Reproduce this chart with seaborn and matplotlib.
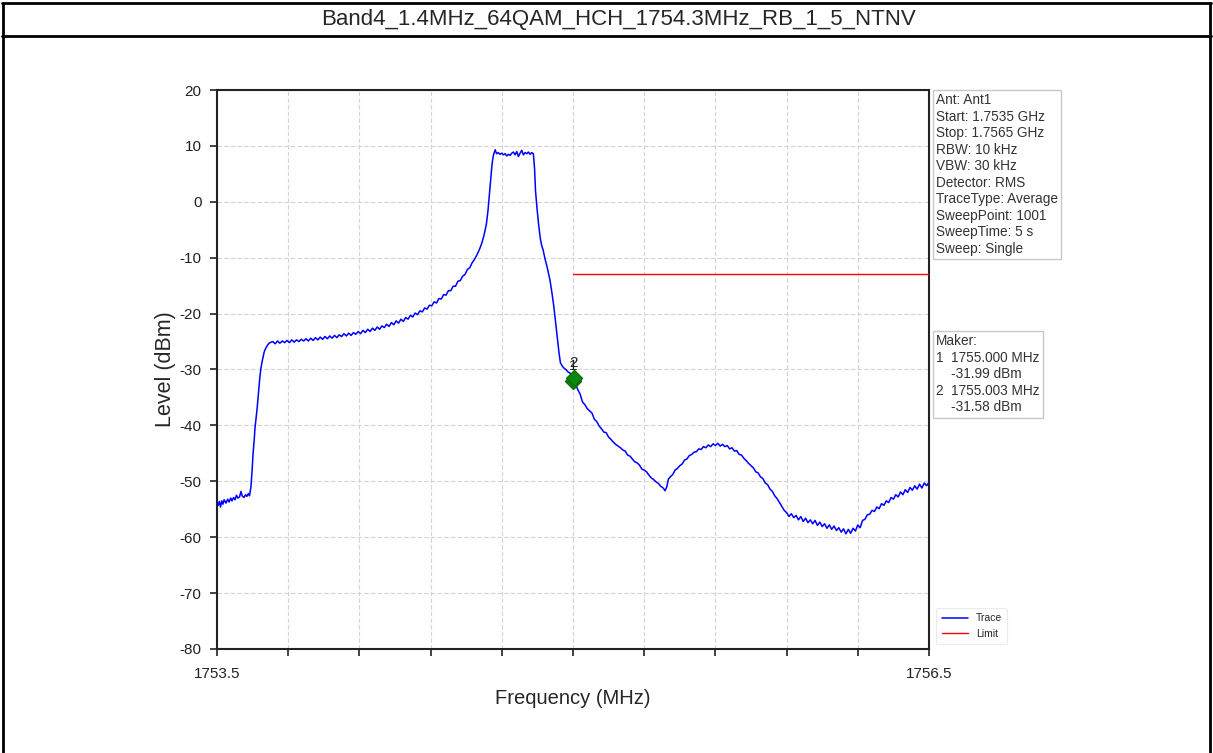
import matplotlib
matplotlib.use("Agg")
from matplotlib import pyplot as plt
from matplotlib.lines import Line2D
import seaborn as sns
import pandas as pd

title = "Band4_1.4MHz_64QAM_HCH_1754.3MHz_RB_1_5_NTNV"

# trace (MHz, dBm)
trace_freq = [
    1753.500, 1753.505, 1753.510, 1753.515, 1753.520, 1753.525, 1753.530, 1753.538,
    1753.545, 1753.551, 1753.558, 1753.563, 1753.570, 1753.576, 1753.582, 1753.588,
    1753.595, 1753.601, 1753.606, 1753.614, 1753.620, 1753.626, 1753.632, 1753.637,
    1753.643, 1753.648, 1753.652, 1753.657, 1753.660, 1753.665, 1753.669, 1753.673,
    1753.677, 1753.681, 1753.685, 1753.690, 1753.694, 1753.698, 1753.702, 1753.708,
    1753.715, 1753.723,
    1753.735, 1753.745, 1753.755, 1753.765, 1753.775, 1753.785, 1753.795, 1753.805,
    1753.815, 1753.825, 1753.835, 1753.845, 1753.855, 1753.865, 1753.875, 1753.885,
    1753.895, 1753.905, 1753.915, 1753.925, 1753.935, 1753.945, 1753.955, 1753.965,
    1753.975, 1753.985, 1753.995, 1754.005, 1754.015, 1754.025, 1754.035, 1754.045,
    1754.055, 1754.065, 1754.075, 1754.085, 1754.095, 1754.105, 1754.115, 1754.125,
    1754.135, 1754.145, 1754.155, 1754.165, 1754.175, 1754.185, 1754.195, 1754.205,
    1754.215, 1754.225, 1754.235, 1754.245, 1754.255, 1754.265, 1754.275, 1754.285,
    1754.295, 1754.305, 1754.315, 1754.325, 1754.335, 1754.345, 1754.355, 1754.365,
    1754.375, 1754.385, 1754.395, 1754.405, 1754.415, 1754.425, 1754.435, 1754.445,
    1754.455, 1754.465, 1754.475, 1754.485, 1754.495, 1754.505, 1754.515, 1754.525,
    1754.535, 1754.545, 1754.555, 1754.565, 1754.575, 1754.585, 1754.595, 1754.605,
    1754.615, 1754.625, 1754.635, 1754.642, 1754.648, 1754.654, 1754.659, 1754.664,
    1754.668,
    1754.672, 1754.678, 1754.685, 1754.692, 1754.700, 1754.707, 1754.714, 1754.721,
    1754.728, 1754.735, 1754.742, 1754.749, 1754.756, 1754.763, 1754.770, 1754.777,
    1754.784, 1754.791, 1754.798, 1754.805, 1754.812, 1754.819, 1754.826, 1754.833,
    1754.838, 1754.842, 1754.848, 1754.855, 1754.862, 1754.868, 1754.874, 1754.882,
    1754.890, 1754.897, 1754.903, 1754.912, 1754.920, 1754.928, 1754.935, 1754.941,
    1754.947, 1754.955, 1754.963, 1754.970, 1754.978, 1754.986, 1754.993, 1755.000,
    1755.010, 1755.020, 1755.030, 1755.040, 1755.050, 1755.060, 1755.070, 1755.080,
    1755.090, 1755.100, 1755.110, 1755.120, 1755.130, 1755.140, 1755.150, 1755.160,
    1755.170, 1755.180, 1755.190, 1755.200, 1755.210, 1755.220, 1755.230, 1755.240,
    1755.250, 1755.260, 1755.270, 1755.280, 1755.290, 1755.300, 1755.310, 1755.320,
    1755.330, 1755.340, 1755.350, 1755.360, 1755.370, 1755.380, 1755.388, 1755.395,
    1755.402, 1755.410, 1755.420, 1755.430, 1755.440, 1755.450, 1755.460, 1755.470,
    1755.480, 1755.490, 1755.500, 1755.510, 1755.520, 1755.530, 1755.540, 1755.550,
    1755.560, 1755.570, 1755.580, 1755.590, 1755.600, 1755.610, 1755.620, 1755.630,
    1755.640, 1755.650, 1755.660, 1755.670, 1755.680, 1755.690, 1755.700, 1755.710,
    1755.720, 1755.730, 1755.740, 1755.750, 1755.760, 1755.770, 1755.780, 1755.790,
    1755.800, 1755.810, 1755.820, 1755.830, 1755.840, 1755.850, 1755.860, 1755.870,
    1755.880, 1755.890, 1755.900, 1755.910, 1755.920, 1755.930, 1755.940, 1755.950,
    1755.960, 1755.970, 1755.980, 1755.990, 1756.000, 1756.010, 1756.020, 1756.030,
    1756.040, 1756.050, 1756.060, 1756.070, 1756.080, 1756.090, 1756.100, 1756.110,
    1756.120, 1756.130, 1756.140, 1756.150, 1756.160, 1756.170, 1756.180, 1756.190,
    1756.200, 1756.210, 1756.220, 1756.230, 1756.240, 1756.250, 1756.260, 1756.270,
    1756.280, 1756.290, 1756.300, 1756.310, 1756.320, 1756.330, 1756.340, 1756.350,
    1756.360, 1756.370, 1756.380, 1756.390, 1756.400, 1756.410, 1756.420, 1756.430,
    1756.440, 1756.450, 1756.460, 1756.470, 1756.480, 1756.490, 1756.500,
]
trace_level = [
    -53.8, -54.3, -53.6, -54.6, -53.5, -54.1, -53.3, -53.9,
    -53.2, -53.7, -53.0, -53.5, -52.9, -53.3, -52.5, -53.0,
    -52.8, -51.8, -52.6, -52.9, -52.4, -52.7, -52.2, -52.6,
    -51.0, -48.0, -45.0, -42.5, -40.5, -38.5, -37.0, -35.0,
    -33.0, -31.2, -29.8, -28.6, -27.8, -27.0, -26.5, -26.0,
    -25.5, -25.2,
    -25.0, -25.4, -24.9, -25.3, -24.9, -25.2, -24.8, -25.2,
    -24.7, -25.1, -24.7, -25.0, -24.6, -24.9, -24.5, -24.9,
    -24.4, -24.8, -24.3, -24.7, -24.2, -24.6, -24.1, -24.5,
    -24.0, -24.4, -23.9, -24.3, -23.8, -24.1, -23.6, -24.0,
    -23.5, -23.9, -23.4, -23.7, -23.2, -23.6, -23.0, -23.4,
    -22.8, -23.2, -22.6, -23.0, -22.4, -22.8, -22.2, -22.5,
    -21.9, -22.3, -21.6, -22.0, -21.3, -21.7, -21.0, -21.4,
    -20.7, -21.0, -20.3, -20.6, -19.9, -20.2, -19.5, -19.7,
    -19.0, -19.2, -18.5, -18.6, -17.9, -18.1, -17.3, -17.4,
    -16.6, -16.7, -15.9, -15.9, -15.1, -15.1, -14.2, -14.1,
    -13.3, -13.0, -12.1, -11.8, -10.9, -10.3, -9.5, -8.6,
    -7.5, -6.0, -4.0, -1.5, 1.5, 4.5, 6.8, 8.2,
    8.8,
    9.3, 8.6, 8.8, 8.5, 8.7, 8.4, 8.6, 8.2,
    8.5, 8.3, 8.7, 8.9, 8.4, 9.0, 8.1, 8.7,
    9.2, 8.4, 8.8, 8.6, 8.9, 8.5, 8.8, 8.6,
    6.0, 2.0, -1.0, -4.0, -6.5, -7.8, -8.6, -10.2,
    -11.5, -12.8, -14.0, -16.5, -19.0, -22.0, -24.5, -27.0,
    -28.8, -29.4, -29.8, -30.0, -30.4, -30.6, -30.9, -31.4,
    -32.5, -33.6, -34.4, -35.8, -36.3, -37.0, -37.4, -37.8,
    -38.9, -39.3, -40.1, -40.6, -41.2, -41.3, -42.1, -42.5,
    -43.0, -43.4, -43.7, -44.0, -44.4, -44.6, -45.3, -45.5,
    -46.0, -46.5, -46.7, -47.1, -47.8, -48.0, -48.3, -48.9,
    -49.4, -49.7, -50.1, -50.4, -50.9, -51.2, -51.7, -51.0,
    -49.6, -49.2, -48.8, -48.0, -47.7, -47.2, -46.9, -46.2,
    -46.0, -45.4, -45.2, -44.8, -44.7, -44.2, -44.3, -43.8,
    -44.0, -43.5, -43.8, -43.3, -43.6, -43.2, -43.7, -43.4,
    -43.8, -43.6, -44.2, -44.0, -44.6, -44.5, -45.2, -45.3,
    -45.9, -46.3, -46.8, -47.2, -47.6, -48.3, -48.5, -49.2,
    -49.5, -50.3, -50.6, -51.4, -51.8, -52.6, -53.1, -53.8,
    -54.5, -55.2, -55.6, -56.3, -55.8, -56.5, -56.1, -56.9,
    -56.3, -57.2, -56.6, -57.4, -56.9, -57.6, -57.0, -57.9,
    -57.3, -58.1, -57.6, -58.4, -57.8, -58.6, -58.0, -58.8,
    -58.3, -59.1, -58.5, -59.4, -58.6, -59.3, -58.4, -58.9,
    -57.8, -58.3, -57.0, -56.8, -56.0, -55.9, -55.2, -55.4,
    -54.6, -54.9, -54.0, -54.3, -53.5, -53.8, -52.9, -53.2,
    -52.4, -52.8, -51.9, -52.4, -51.5, -52.0, -51.1, -51.6,
    -50.8, -51.4, -50.5, -51.2, -50.3, -50.8, -50.2,
]

limit_freq = [1755.0, 1756.5]
limit_level = [-13.0, -13.0]

marker_ids = ["1", "2"]
marker_freq = [1755.000, 1755.003]
marker_level = [-31.99, -31.58]

x_ticks = [1753.5, 1753.8, 1754.1, 1754.4, 1754.7, 1755.0, 1755.3, 1755.6, 1755.9, 1756.2, 1756.5]
x_tick_labels = ["1753.5", "", "", "", "", "", "", "", "", "", "1756.5"]
y_ticks = [20, 10, 0, -10, -20, -30, -40, -50, -60, -70, -80]

setup_text = ("Ant: Ant1\nStart: 1.7535 GHz\nStop: 1.7565 GHz\nRBW: 10 kHz\nVBW: 30 kHz\n"
              "Detector: RMS\nTraceType: Average\nSweepPoint: 1001\nSweepTime: 5 s\nSweep: Single")
marker_text = "Maker:\n1  1755.000 MHz\n    -31.99 dBm\n2  1755.003 MHz\n    -31.58 dBm"

sns.set_style("white")
plt.rcParams["font.family"] = ["Liberation Sans", "DejaVu Sans"]
plt.rcParams["axes.unicode_minus"] = False

fig = plt.figure(figsize=(12.13, 7.53), dpi=100)
ax = fig.add_axes([217 / 1213, 1 - 649 / 753, 712 / 1213, 559 / 753])

trace_df = pd.DataFrame({"Frequency": trace_freq, "Level": trace_level})
limit_df = pd.DataFrame({"Frequency": limit_freq, "Level": limit_level})
sns.lineplot(data=trace_df, x="Frequency", y="Level", ax=ax, color="#0000ff", lw=1.1,
             label="Trace", estimator=None, sort=False, zorder=3)
sns.lineplot(data=limit_df, x="Frequency", y="Level", ax=ax, color="#ff0000", lw=1.0,
             label="Limit", estimator=None, zorder=3)
ax.plot(marker_freq, marker_level, ls="none", marker="D", ms=8, color="#0a8a0a",
        mec="#0a6a0a", zorder=4)
for mid, mf, ml in zip(marker_ids, marker_freq, marker_level):
    ax.annotate(mid, (mf, ml), xytext=(0, 8), textcoords="offset points", ha="center",
                fontsize=11, color="#222222", zorder=5)

ax.set_xlim(1753.5, 1756.5)
ax.set_ylim(-80, 20)
ax.set_xticks(x_ticks)
ax.set_xticklabels(x_tick_labels)
ax.set_yticks(y_ticks)
ax.grid(True, color="#d4d4d4", ls=(0, (4, 2)), lw=0.8)
ax.tick_params(axis="both", direction="out", length=5, width=1.2, labelsize=11,
               colors="#222222", bottom=True, left=True, pad=6)
ax.tick_params(axis="x", pad=8)
for sp in ax.spines.values():
    sp.set_color("#222222")
    sp.set_linewidth(1.5)
ax.set_xlabel("Frequency (MHz)", fontsize=14.5, labelpad=6)
ax.set_ylabel("Level (dBm)", fontsize=15.5, labelpad=3)

leg = ax.legend(loc="lower left", bbox_to_anchor=(1.003, 0.0), fontsize=7.5, frameon=True,
                handlelength=2.5, borderpad=0.5, labelspacing=0.5)
leg.get_frame().set_edgecolor("#e6e6e6")
leg.get_frame().set_linewidth(0.8)

box = dict(boxstyle="square,pad=0.25", fc="white", ec="#c8c8c8", lw=1)
fig.text(936 / 1213, 1 - 93 / 753, setup_text, fontsize=9.8, va="top", ha="left",
         color="#333333", linespacing=1.23, bbox=box)
fig.text(936 / 1213, 1 - 334 / 753, marker_text, fontsize=9.8, va="top", ha="left",
         color="#333333", linespacing=1.23, bbox=box)

# table frame around the report
fig.text(0.51, 1 - 20 / 753, title, fontsize=16, ha="center", va="center")
for y in [1 - 3 / 753, 1 - 36 / 753]:
    fig.add_artist(Line2D([0.002, 0.998], [y, y], color="black", lw=2))
for x in [3 / 1213, 1210 / 1213]:
    fig.add_artist(Line2D([x, x], [0, 1 - 3 / 753], color="black", lw=2))

fig.savefig("out.png", dpi=100)
